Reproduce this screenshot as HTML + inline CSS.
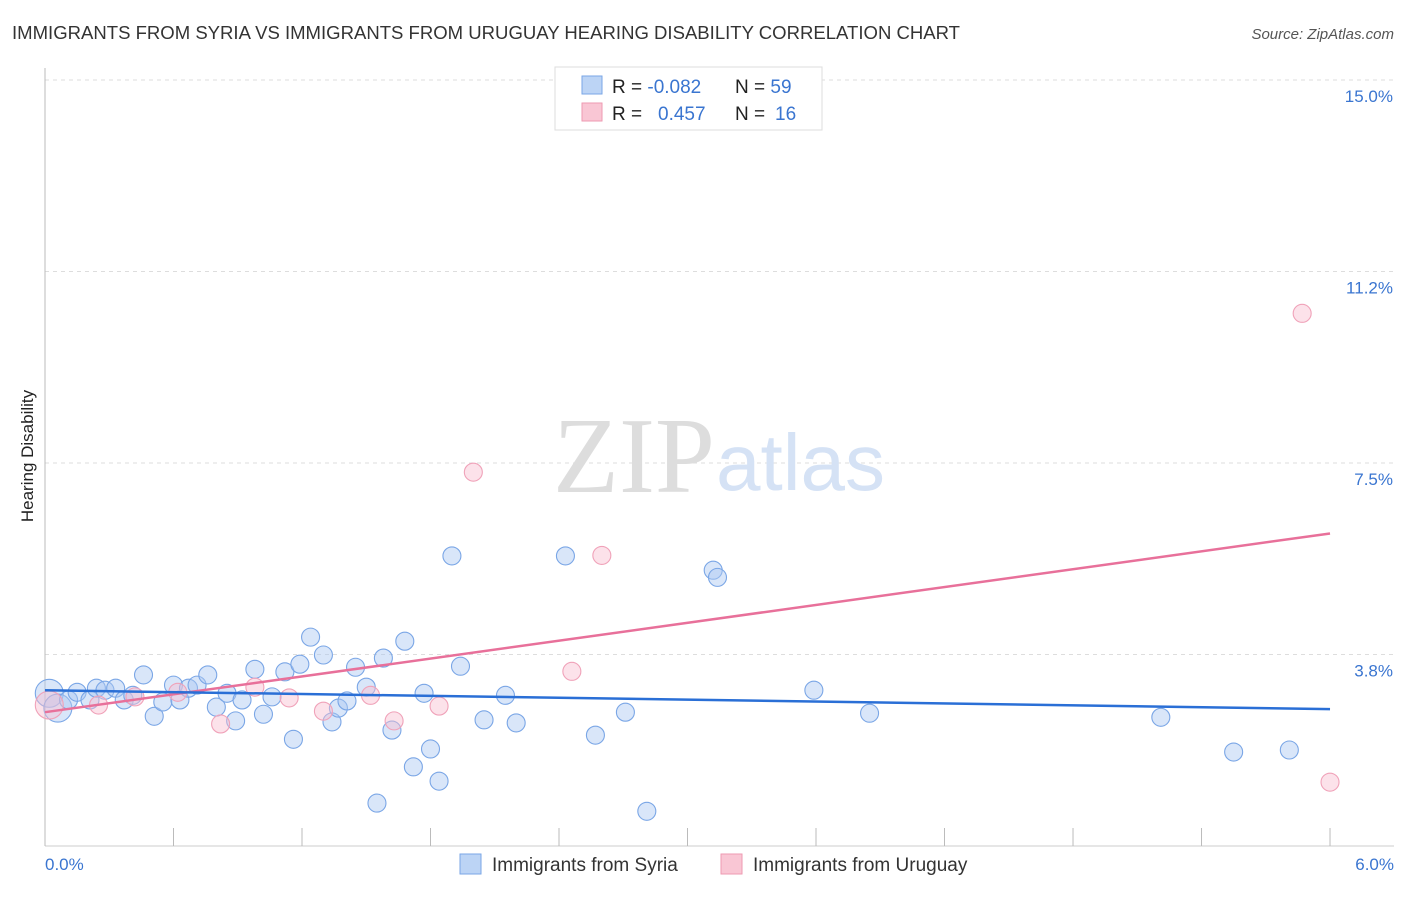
<!DOCTYPE html>
<html><head><meta charset="utf-8"><style>
body{margin:0;background:#fff;font-family:"Liberation Sans",sans-serif}
</style></head><body>
<svg width="1406" height="892" xmlns="http://www.w3.org/2000/svg" font-family="Liberation Sans, sans-serif">
<text x="12" y="39" font-size="18" fill="#333" textLength="948" lengthAdjust="spacingAndGlyphs">IMMIGRANTS FROM SYRIA VS IMMIGRANTS FROM URUGUAY HEARING DISABILITY CORRELATION CHART</text>
<text x="1394" y="39" font-size="15" fill="#555" font-style="italic" text-anchor="end">Source: ZipAtlas.com</text>
<g id="grid"></g>
<text x="715" y="492" font-size="108" fill="#ddd" text-anchor="end" font-family="Liberation Serif, serif">ZIP</text>
<text x="716" y="490" font-size="80" fill="#d5e2f5">atlas</text>
<line x1="45" y1="68" x2="45" y2="846" stroke="#bbb"/>
<line x1="45" y1="846" x2="1394" y2="846" stroke="#ccc"/>
<g id="xticks"></g>
<text transform="translate(33,456) rotate(-90)" font-size="17" fill="#222" text-anchor="middle">Hearing Disability</text>
<text x="45" y="870" font-size="17" fill="#3a75d0">0.0%</text>
<text x="1394" y="870" font-size="17" fill="#3a75d0" text-anchor="end">6.0%</text>
<g id="pts"></g>
<g id="trends"></g>
<g>
<rect x="555" y="67" width="267" height="63" fill="#fff" stroke="#ddd"/>
<rect x="582" y="76" width="20" height="18" fill="#bcd4f5" stroke="#7aa6e6"/>
<rect x="582" y="103" width="20" height="18" fill="#f9c6d4" stroke="#ee9ab2"/>
<text x="612" y="93" font-size="19" fill="#222">R = <tspan fill="#3a75d0">-0.082</tspan><tspan x="735">N = </tspan><tspan fill="#3a75d0">59</tspan></text>
<text x="612" y="120" font-size="19" fill="#222">R = <tspan x="658" fill="#3a75d0">0.457</tspan><tspan x="735">N = </tspan><tspan x="775" fill="#3a75d0">16</tspan></text>
</g>
<g>
<rect x="460" y="854" width="21" height="20" fill="#bcd4f5" stroke="#7aa6e6"/>
<text x="492" y="871" font-size="19" fill="#333">Immigrants from Syria</text>
<rect x="721" y="854" width="21" height="20" fill="#f9c6d4" stroke="#ee9ab2"/>
<text x="753" y="871" font-size="19" fill="#333">Immigrants from Uruguay</text>
</g>
</svg>
<script>
const yTicks=[15,11.25,7.5,3.75];
const yTickLabels=["15.0%","11.2%","7.5%","3.8%"];
const xTicks=[0,0.6,1.2,1.8,2.4,3.0,3.6,4.2,4.8,5.4,6.0];
const syriaX=[.02,.06,.11,.15,.21,.24,.28,.33,.37,.41,.46,.51,.55,.60,.63,.67,.71,.76,.80,.85,.89,.92,.98,1.02,1.06,1.12,1.16,1.19,1.24,1.30,1.34,1.37,1.41,1.45,1.50,1.55,1.58,1.62,1.68,1.72,1.77,1.80,1.84,1.90,1.94,2.05,2.15,2.20,2.43,2.57,2.71,2.81,3.12,3.14,3.59,3.85,5.21,5.55,5.81];
const syriaY=[2.99,2.70,2.86,3.01,2.86,3.09,3.05,3.09,2.86,2.95,3.35,2.54,2.82,3.15,2.86,3.09,3.15,3.35,2.72,2.99,2.45,2.86,3.46,2.58,2.92,3.41,2.09,3.56,4.09,3.74,2.43,2.70,2.84,3.50,3.11,0.84,3.68,2.27,4.01,1.55,2.99,1.90,1.27,5.68,3.52,2.47,2.95,2.41,5.68,2.17,2.62,0.68,5.40,5.26,3.05,2.60,2.52,1.84,1.88];
const uruX=[.02,.25,.42,.62,.82,.98,1.14,1.30,1.52,1.63,1.84,2.00,2.46,2.60,5.87,6.00];
const uruY=[2.76,2.76,2.92,3.01,2.39,3.11,2.90,2.64,2.95,2.45,2.74,7.32,3.42,5.69,10.43,1.25];
const syriaTrend=[3.05,2.68];
const uruTrend=[2.62,6.12];
const NS="http://www.w3.org/2000/svg";
const sx=v=>45+v*214.17, sy=v=>846-v*51.07;
function mk(t,a,p){const e=document.createElementNS(NS,t);for(const k in a)e.setAttribute(k,a[k]);p.appendChild(e);return e;}
const grid=document.getElementById('grid');
yTicks.forEach((v,i)=>{
 const l=mk('line',{x1:45,x2:1394,y1:sy(v),y2:sy(v),stroke:'#ddd','stroke-dasharray':'4,4'},grid);
 
 
 const t=mk('text',{x:1393,y:sy(v)+22,'font-size':17,fill:'#3a75d0','text-anchor':'end'},grid);
 t.textContent=yTickLabels[i];
 
 
});
const xt=document.getElementById('xticks');
xTicks.forEach(v=>{const l=mk('line',{x1:sx(v),x2:sx(v),y1:828,y2:846,stroke:'#bbb'},xt);
 
 });
const pts=document.getElementById('pts');
syriaX.forEach((x,i)=>{const c=mk('circle',{cx:sx(x),cy:sy(syriaY[i]),r:i<2?14:9,fill:'rgba(170,200,242,0.45)',stroke:'#7aa6e6','stroke-width':1.1},pts);
 
 });
uruX.forEach((x,i)=>{const c=mk('circle',{cx:sx(x),cy:sy(uruY[i]),r:i==0?14:9,fill:'rgba(248,190,208,0.45)',stroke:'#f0a2b9','stroke-width':1.1},pts);
 
 });
const tr=document.getElementById('trends');
const a=mk('line',{x1:sx(0),y1:sy(uruTrend[0]),x2:sx(6),y2:sy(uruTrend[1]),stroke:'#e8709a','stroke-width':2.5},tr);


const b=mk('line',{x1:sx(0),y1:sy(syriaTrend[0]),x2:sx(6),y2:sy(syriaTrend[1]),stroke:'#2a6fd6','stroke-width':2.5},tr);


</script>
</body></html>
